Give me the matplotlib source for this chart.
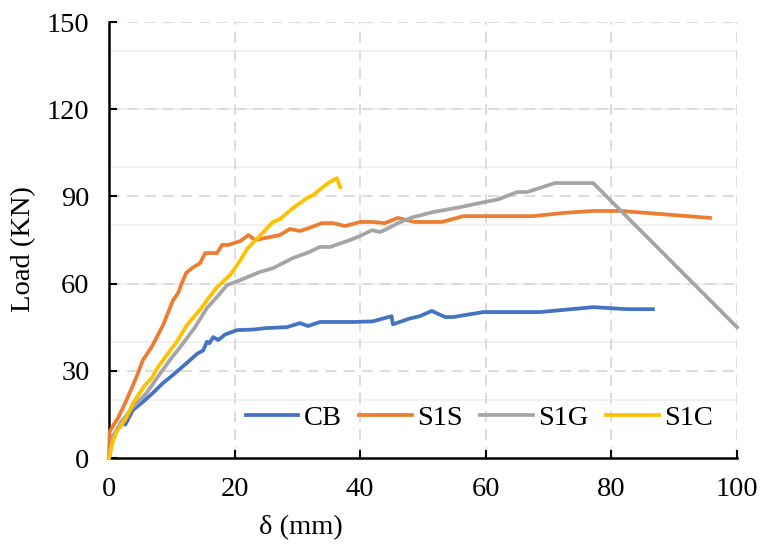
import matplotlib
matplotlib.use("Agg")
import matplotlib.pyplot as plt

plt.rcParams['font.family'] = ['Liberation Serif', 'DejaVu Serif']

# CB
cb_x = [0, 0.5, 1.5, 2.2, 2.6, 3.8, 5.4, 7.0, 8.6, 10.2, 12.4, 14.0, 15.0, 15.6, 16.0, 16.6, 17.4,
        18.5, 20.4, 23.0, 25.0, 28.3, 30.4, 31.7, 33.6, 38.9, 42.0, 45.0, 45.2, 47.9, 49.5, 51.4,
        53.5, 54.8, 59.6, 68.6, 77.1, 82.5, 86.6]
cb_y = [0, 7, 10.5, 12, 11.5, 16.5, 19.3, 22.4, 25.8, 28.6, 32.7, 35.8, 37, 40, 39.5, 41.6, 40.6,
        42.5, 44, 44.2, 44.7, 45, 46.4, 45.4, 46.8, 46.8, 47, 48.8, 46, 48, 48.8, 50.6,
        48.5, 48.5, 50.2, 50.2, 51.9, 51.2, 51.2]

# S1S
s1s_x = [0, 0.1, 0.7, 1.5, 2.8, 4.4, 5.4, 6.8, 8.6, 10.2, 11.0, 11.6, 12.3, 13.2, 14.5, 15.3,
         17.2, 18.0, 19.0, 20.9, 22.2, 23.3, 25.6, 27.2, 28.8, 30.4, 31.7, 33.9, 35.7, 37.6,
         40.0, 42.0, 43.9, 46.0, 48.7, 53.0, 56.4, 67.5, 72.3, 77.1, 81.4, 85.7, 95.7]
s1s_y = [0, 9, 11.3, 14, 20, 28, 33.7, 38.2, 45.7, 54.3, 56.7, 60.2, 63.7, 65.3, 67, 70.5,
         70.5, 73.3, 73.3, 74.6, 76.7, 75, 76, 76.7, 78.8, 78.1, 79, 80.8, 80.8, 79.8,
         81.2, 81.2, 80.8, 82.6, 81.2, 81.2, 83.2, 83.2, 84.3, 85, 85, 84.3, 82.6]

# S1G
s1g_x = [0, 0.6, 1.8, 3.8, 6.0, 7.8, 9.7, 11.6, 13.7, 15.6, 17.2, 18.8, 20.9, 24.0, 26.1,
         29.3, 31.5, 33.6, 35.2, 38.4, 40.0, 41.9, 43.2, 44.7, 46.0, 48.3, 51.6, 55.9, 59.0,
         62.0, 65.0, 66.6, 68.6, 71.0, 77.1, 100]
s1g_y = [0, 7, 12, 17.5, 22.4, 28, 33.7, 38.9, 45, 51.6, 55.4, 59.5, 61.2, 64, 65.3,
         68.8, 70.5, 72.6, 72.6, 75, 76.4, 78.4, 77.7, 79.3, 80.8, 82.8, 84.6, 86.3, 87.7,
         89, 91.5, 91.5, 92.9, 94.6, 94.6, 45]

# S1C
s1c_x = [0, 0.5, 1.2, 2.8, 3.8, 4.9, 5.7, 6.8, 7.8, 9.2, 10.8, 12.4, 14.0, 14.5, 15.6, 17.2,
         19.3, 20.9, 22.0, 23.7, 26.1, 27.2, 29.3, 31.5, 32.5, 34.9, 36.3, 36.8]
s1c_y = [0, 5, 9, 14, 18.8, 22.4, 25, 27.5, 31.3, 35.4, 40, 45.7, 49.8, 51, 54.3, 58.8,
         63, 68, 72, 75.7, 81.2, 82.2, 86, 89.4, 90.5, 94.6, 96.3, 93.2]

labels = ['CB', 'S1S', 'S1G', 'S1C']
colors = ['#4472C4', '#ED7D31', '#A5A5A5', '#FFC000']

x_ticks = [0, 20, 40, 60, 80, 100]
y_ticks = [0, 30, 60, 90, 120, 150]
y_minor = [20, 40, 60, 80, 100, 120, 140]

FS = 20.5

fig = plt.figure(figsize=(7.67, 5.46), dpi=100)
ax = fig.add_axes([109/767, 1-458/546, 628/767, 436/546])

# minor light solid horizontal lines
for v in y_minor:
    ax.axhline(v, color='#F0F0F0', lw=1.3, zorder=0)
# major dashed grid
for v in y_ticks[1:]:
    ax.axhline(v, color='#D9D9D9', lw=1.3, ls=(0, (6, 4)), zorder=0.5)
for v in x_ticks[1:]:
    ax.axvline(v, color='#D9D9D9', lw=1.3, ls=(0, (6, 4)), zorder=0.5)

series = [(cb_x, cb_y), (s1s_x, s1s_y), (s1g_x, s1g_y), (s1c_x, s1c_y)]
for (xs, ys), lab, c in zip(series, labels, colors):
    ax.plot(xs, ys, color=c, lw=2.7, label=lab, solid_joinstyle='round', clip_on=False, zorder=3)

ax.set_xlim(0, 100)
ax.set_ylim(0, 150)
ax.set_xticks(x_ticks)
ax.set_yticks(y_ticks)
ax.tick_params(direction='in', length=6, width=1.5, labelsize=FS, colors='black')
ax.tick_params(axis='y', pad=14)
ax.tick_params(axis='x', pad=14)

for s in ['top', 'right']:
    ax.spines[s].set_visible(False)
for s in ['left', 'bottom']:
    ax.spines[s].set_linewidth(1.8)
    ax.spines[s].set_color('black')

ax.set_xlabel('δ (mm)', fontsize=FS)
ax.set_ylabel('Load (KN)', fontsize=FS)
ax.xaxis.label.set_va('center')
ax.yaxis.label.set_va('center')
ax.xaxis.set_label_coords((301-109)/628, (458-528)/436)
ax.yaxis.set_label_coords((24-109)/628, (458-249)/436)

leg = ax.legend(loc='center', bbox_to_anchor=(0.59, 0.092), ncol=4, frameon=False,
                fontsize=FS, handlelength=1.85, handletextpad=0.2, columnspacing=0.6)

fig.savefig('out.png', dpi=100)
